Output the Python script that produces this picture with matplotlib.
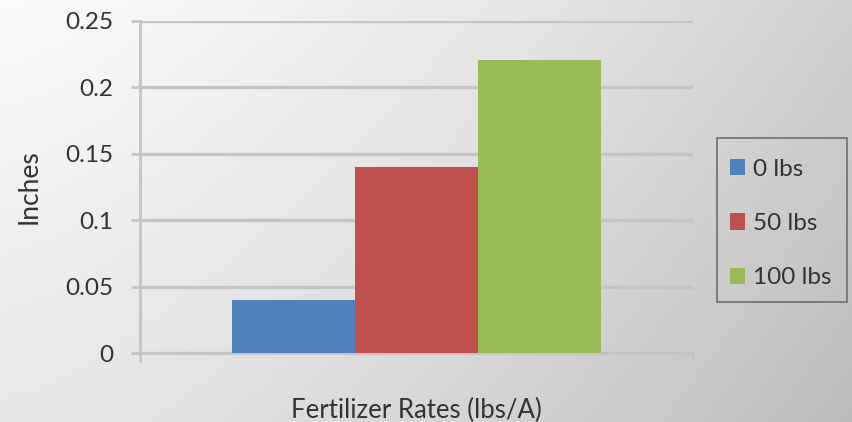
import numpy as np
import matplotlib
matplotlib.use("Agg")
import matplotlib.pyplot as plt
from matplotlib.colors import LinearSegmentedColormap
from matplotlib.patches import Rectangle

# Data
series_labels = ["0 lbs", "50 lbs", "100 lbs"]
series_values = [0.04, 0.14, 0.22]
series_colors = ["#4F81BD", "#C0504D", "#9BBB59"]
y_ticks = [0, 0.05, 0.1, 0.15, 0.2, 0.25]
y_tick_labels = ["0", "0.05", "0.1", "0.15", "0.2", "0.25"]
x_title = "Fertilizer Rates (lbs/A)"
y_title = "Inches"

plt.rcParams["font.family"] = ["Lato", "DejaVu Sans"]
text_color = "#333333"
grid_color = "#c4c4c4"

W, H = 852, 422
fig = plt.figure(figsize=(W / 100, H / 100), dpi=100)

# Diagonal light-to-gray background
bg = fig.add_axes([0, 0, 1, 1], zorder=-10)
xx, yy = np.meshgrid(np.linspace(0, 1, 400), np.linspace(0, 1, 200))
shade = 0.62 * xx ** 1.4 + 0.30 * yy
cmap = LinearSegmentedColormap.from_list("bg", ["#fbfbfb", "#b7b7b7"])
bg.imshow(shade, cmap=cmap, vmin=0, vmax=1, aspect="auto", extent=[0, 1, 0, 1],
          origin="upper")
bg.set_axis_off()

ax = fig.add_axes([140 / W, 1 - 353 / H, 553 / W, 332.5 / H])
ax.patch.set_alpha(0)

bar_w = 0.2224
n = len(series_values)
offsets = (np.arange(n) - (n - 1) / 2) * bar_w
for off, val, col, lab in zip(offsets, series_values, series_colors, series_labels):
    ax.bar(off, val, width=bar_w, color=col, label=lab, zorder=3)

ax.set_xlim(-0.5, 0.5)
ax.set_ylim(0, 0.25)
ax.set_yticks(y_ticks)
ax.set_yticklabels(y_tick_labels)
ax.set_xticks([-0.5, 0.5])
ax.set_xticklabels([])

ax.yaxis.grid(True, color=grid_color, linewidth=2.4, zorder=0)
ax.set_axisbelow(True)
for s in ["top", "right"]:
    ax.spines[s].set_visible(False)
for s in ["left", "bottom"]:
    ax.spines[s].set_color(grid_color)
    ax.spines[s].set_linewidth(2.0)

ax.tick_params(axis="y", length=6.5, width=2.0, color=grid_color, pad=13,
               labelsize=17.5, labelcolor=text_color)
ax.tick_params(axis="x", length=6.5, width=2.0, color=grid_color, direction="out")

ax.set_xlabel(x_title, fontsize=18.5, color=text_color, labelpad=22)
ax.set_ylabel(y_title, fontsize=19, color=text_color, labelpad=17)

# Legend entries, with the surrounding box drawn as its own rectangle
leg = fig.legend(loc="upper left", bbox_to_anchor=(709 / W, 1 - 138 / H),
                 fontsize=17.5, frameon=False, borderpad=0.85,
                 labelspacing=1.37, handlelength=0.65, handleheight=0.65,
                 handletextpad=0.3, borderaxespad=0)
for t in leg.get_texts():
    t.set_color(text_color)
fig.patches.append(Rectangle((717 / W, 1 - 302 / H), 130 / W, 164 / H,
                             transform=fig.transFigure, fill=False,
                             edgecolor="#6e6e6e", linewidth=1.2))

fig.savefig("out.png", dpi=100)
